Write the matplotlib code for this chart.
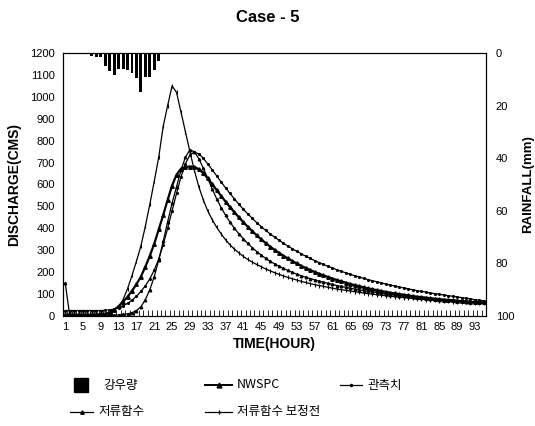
import matplotlib
matplotlib.use("Agg")
import matplotlib.pyplot as plt
from matplotlib.lines import Line2D

plt.rcParams['font.family'] = ['Liberation Sans', 'Noto Sans CJK KR', 'DejaVu Sans']

hours = list(range(1, 96))
xtick_labels = list(range(1, 96, 4))

rain_hours = [7, 8, 9, 10, 11, 12, 13, 14, 15, 16, 17, 18, 19, 20, 21, 22]
rain_mm = [1.2, 1.5, 1.5, 5, 7, 8.5, 6, 6, 6.5, 7.5, 9.5, 15, 9, 9, 6.5, 3]

# 저류함수 보정전 (sharp peak)
before_calib = [8, 8, 8, 8, 8, 8, 8, 9, 10, 12,
                18, 28, 42, 75, 125, 185, 250, 320, 410, 510,
                615, 725, 865, 960, 1050, 1020, 930, 840, 750, 665,
                590, 530, 480, 440, 405, 375, 348, 325, 305, 288,
                272, 258, 246, 235, 225, 215, 206, 198, 190, 183,
                176, 170, 164, 158, 153, 148, 143, 139, 135, 131,
                127, 123, 120, 117, 114, 111, 108, 105, 102, 100,
                97, 95, 92, 90, 88, 86, 84, 82, 80, 78,
                76, 75, 73, 72, 70, 69, 67, 66, 65, 63,
                62, 61, 60, 59, 58]

# 관측치
observed = [25, 25, 25, 25, 25, 25, 25, 25, 25, 26,
            28, 32, 38, 46, 58, 72, 90, 112, 138, 170,
            210, 260, 325, 400, 480, 560, 635, 695, 735, 748,
            740, 720, 694, 667, 640, 612, 585, 559, 534, 510,
            487, 466, 446, 426, 408, 391, 375, 360, 346, 332,
            319, 307, 295, 284, 273, 263, 253, 244, 235, 227,
            219, 211, 204, 197, 190, 184, 178, 172, 166, 161,
            156, 151, 146, 141, 137, 132, 128, 124, 120, 116,
            112, 109, 105, 102, 99, 96, 93, 90, 87, 84,
            81, 78, 75, 72, 69]

# NWSPC
nwspc = [5, 5, 5, 5, 5, 5, 5, 5, 6, 8,
         15, 28, 45, 65, 88, 115, 145, 180, 225, 275,
         330, 395, 460, 530, 595, 645, 672, 680, 682, 680,
         670, 652, 628, 602, 575, 548, 522, 497, 473, 450,
         428, 407, 387, 368, 350, 333, 317, 302, 288, 275,
         263, 251, 240, 229, 219, 210, 201, 193, 185, 178,
         171, 164, 158, 152, 146, 141, 136, 131, 126, 122,
         118, 114, 110, 106, 103, 100, 97, 94, 91, 88,
         86, 84, 81, 79, 77, 75, 73, 72, 70, 68,
         67, 65, 64, 63, 62]

# 저류함수
storage = [150, 5, 3, 3, 3, 3, 3, 3, 3, 3,
           3, 4, 5, 7, 10, 15, 25, 42, 75, 120,
           180, 255, 340, 430, 515, 590, 665, 725, 758, 750,
           718, 675, 628, 580, 535, 495, 460, 428, 400, 375,
           352, 331, 312, 294, 278, 263, 250, 238, 227, 217,
           208, 199, 191, 184, 177, 171, 165, 159, 154, 149,
           144, 139, 135, 131, 127, 123, 119, 116, 113, 110,
           107, 104, 101, 98, 96, 93, 91, 89, 87, 85,
           83, 81, 79, 77, 75, 74, 72, 71, 69, 68,
           66, 65, 64, 63, 62]

W, H = 535, 426
fig = plt.figure(figsize=(W / 100, H / 100), dpi=100)
ax = fig.add_axes([63 / W, 1 - 316 / H, (486 - 63) / W, (316 - 53) / H])

ax.plot(hours, before_calib, color='black', lw=0.9, marker='|', ms=2.5, mew=0.8)
ax.plot(hours, observed, color='black', lw=0.9, marker='.', ms=2.5)
ax.plot(hours, nwspc, color='black', lw=1.6, marker='^', ms=2.5)
ax.plot(hours, storage, color='black', lw=0.9, marker='^', ms=1.8)

ax.set_xlim(0.5, 95.5)
ax.set_ylim(0, 1200)
ax.set_yticks(range(0, 1201, 100))
ax.set_xticks(xtick_labels)
ax.set_xticks([h + 0.5 for h in hours[:-1]], minor=True)
ax.tick_params(axis='x', which='major', length=0, labelsize=8, pad=4)
ax.tick_params(axis='x', which='minor', length=4, direction='in', width=0.6)
ax.tick_params(axis='y', length=0, labelsize=8, pad=6)
for s in ax.spines.values():
    s.set_linewidth(0.8)

ax.set_xlabel('TIME(HOUR)', fontsize=10, fontweight='bold', labelpad=4)
ax.set_ylabel('DISCHARGE(CMS)', fontsize=10, fontweight='bold', labelpad=6)

ax2 = ax.twinx()
ax2.bar(rain_hours, rain_mm, width=0.65, color='black')
ax2.set_ylim(100, 0)
ax2.set_yticks(range(0, 101, 20))
ax2.tick_params(axis='y', length=0, labelsize=8, pad=7)
ax2.set_ylabel('RAINFALL(mm)', fontsize=9.5, fontweight='bold', labelpad=6)

fig.text(0.5, 1 - 17 / H, 'Case - 5', ha='center', va='center', fontsize=12, fontweight='bold')

# Manual legend (figure pixel coordinates)
kfont = ['Noto Sans CJK KR', 'DejaVu Sans']
def fx(px):
    return px / W
def fy(py):
    return 1 - py / H

row1, row2 = 385, 412

# 강우량: square
fig.add_artist(Line2D([fx(81)], [fy(row1)], marker='s', ms=10.5, color='black', ls='none'))
fig.text(fx(103), fy(row1), '강우량', ha='left', va='center', fontsize=9, family=kfont)

entries = [
    (205, 232, row1, 'NWSPC', dict(lw=1.4, marker='^', ms=3.5)),
    (340, 362, row1, '관측치', dict(lw=0.9, marker='.', ms=3)),
    (70, 93, row2, '저류함수', dict(lw=0.9, marker='^', ms=2.5)),
    (205, 232, row2, '저류함수 보정전', dict(lw=0.9, marker='|', ms=2.5)),
]
for x0, x1, yy, lab, st in entries:
    fig.add_artist(Line2D([fx(x0), fx(x1)], [fy(yy), fy(yy)], color='black', lw=st['lw']))
    fig.add_artist(Line2D([fx((x0 + x1) / 2)], [fy(yy)], color='black', ls='none',
                          marker=st['marker'], ms=st['ms']))
    fig.text(fx(x1 + 5), fy(yy), lab, ha='left', va='center', fontsize=9, family=kfont)

fig.savefig('out.png', dpi=100)
